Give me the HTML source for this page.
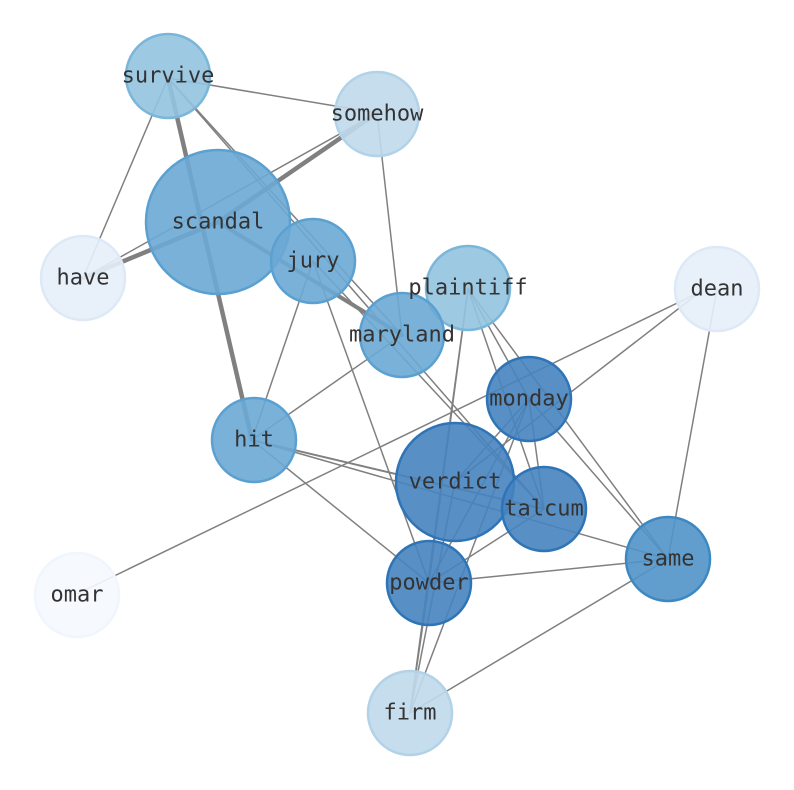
<!DOCTYPE html>
<html><head><meta charset="utf-8"><style>body{margin:0;background:#fff}svg{display:block}</style></head>
<body>
<svg width="794" height="790" xmlns="http://www.w3.org/2000/svg">
<g stroke="#808080" fill="none" stroke-linecap="round">
<line x1="168" y1="78" x2="377" y2="113" stroke-width="1.5"/>
<line x1="168" y1="78" x2="83" y2="278" stroke-width="1.5"/>
<line x1="168" y1="78" x2="252" y2="440" stroke-width="4.5"/>
<line x1="168" y1="78" x2="402" y2="335" stroke-width="1.5"/>
<line x1="168" y1="78" x2="544" y2="509" stroke-width="1.5"/>
<line x1="218" y1="222" x2="83" y2="278" stroke-width="4.5"/>
<line x1="218" y1="222" x2="377" y2="113" stroke-width="4.5"/>
<line x1="83" y1="278" x2="377" y2="113" stroke-width="1.5"/>
<line x1="218" y1="222" x2="402" y2="335" stroke-width="4"/>
<line x1="313" y1="261" x2="252" y2="440" stroke-width="1.5"/>
<line x1="313" y1="261" x2="429" y2="583" stroke-width="1.5"/>
<line x1="313" y1="261" x2="544" y2="509" stroke-width="1.5"/>
<line x1="377" y1="113" x2="402" y2="335" stroke-width="1.5"/>
<line x1="402" y1="335" x2="252" y2="440" stroke-width="1.5"/>
<line x1="468" y1="289" x2="410" y2="713" stroke-width="1.5"/>
<line x1="468" y1="289" x2="429" y2="583" stroke-width="1.5"/>
<line x1="468" y1="289" x2="544" y2="509" stroke-width="1.5"/>
<line x1="468" y1="289" x2="668" y2="559" stroke-width="1.5"/>
<line x1="468" y1="289" x2="529" y2="399" stroke-width="1.5"/>
<line x1="700" y1="292" x2="77" y2="594" stroke-width="1.5"/>
<line x1="700" y1="292" x2="455" y2="482" stroke-width="1.5"/>
<line x1="717" y1="289" x2="668" y2="559" stroke-width="1.5"/>
<line x1="529" y1="399" x2="455" y2="482" stroke-width="1.5"/>
<line x1="529" y1="399" x2="429" y2="583" stroke-width="1.5"/>
<line x1="529" y1="399" x2="544" y2="509" stroke-width="1.5"/>
<line x1="529" y1="399" x2="668" y2="559" stroke-width="1.5"/>
<line x1="529" y1="399" x2="410" y2="713" stroke-width="1.5"/>
<line x1="252" y1="440" x2="544" y2="509" stroke-width="2"/>
<line x1="252" y1="440" x2="668" y2="559" stroke-width="1.5"/>
<line x1="252" y1="440" x2="429" y2="583" stroke-width="1.5"/>
<line x1="455" y1="482" x2="410" y2="713" stroke-width="1.5"/>
<line x1="429" y1="583" x2="544" y2="509" stroke-width="1.5"/>
<line x1="429" y1="583" x2="668" y2="559" stroke-width="1.5"/>
<line x1="668" y1="559" x2="410" y2="713" stroke-width="1.5"/>
<line x1="429" y1="583" x2="410" y2="713" stroke-width="1.5"/>
</g>
<g stroke-width="2.5" fill-opacity="0.9">
<circle cx="168" cy="76" r="42" fill="#93c3df" stroke="#7ab6d9"/>
<circle cx="377" cy="114" r="42" fill="#c0d9ec" stroke="#b2d2e8"/>
<circle cx="218" cy="222" r="72" fill="#6ba8d4" stroke="#5aa0d0"/>
<circle cx="83" cy="278" r="42" fill="#e6eff9" stroke="#dde9f6"/>
<circle cx="313" cy="261" r="42" fill="#6ba8d4" stroke="#5aa0d0"/>
<circle cx="468" cy="288" r="42" fill="#93c3df" stroke="#7ab6d9"/>
<circle cx="717" cy="289" r="42" fill="#e6eff9" stroke="#dde9f6"/>
<circle cx="402" cy="335" r="42" fill="#6ba8d4" stroke="#5aa0d0"/>
<circle cx="529" cy="399" r="42" fill="#4683bf" stroke="#2e74b6"/>
<circle cx="254" cy="440" r="42" fill="#6ba8d4" stroke="#5aa0d0"/>
<circle cx="455" cy="482" r="59" fill="#4683bf" stroke="#2e74b6"/>
<circle cx="544" cy="509" r="42" fill="#4683bf" stroke="#2e74b6"/>
<circle cx="668" cy="559" r="42" fill="#5094c8" stroke="#3e88c2"/>
<circle cx="429" cy="583" r="42" fill="#4683bf" stroke="#2e74b6"/>
<circle cx="77" cy="595" r="42" fill="#f5f9fe" stroke="#f0f6fd"/>
<circle cx="410" cy="713" r="42" fill="#c0d9ec" stroke="#b2d2e8"/>
</g>
<g font-family="'DejaVu Sans Mono','Liberation Mono',monospace" font-size="22" fill="#333" text-anchor="middle" dominant-baseline="central">
<text x="168" y="76">survive</text>
<text x="377" y="114">somehow</text>
<text x="218" y="222">scandal</text>
<text x="83" y="278">have</text>
<text x="313" y="261">jury</text>
<text x="468" y="288">plaintiff</text>
<text x="717" y="289">dean</text>
<text x="402" y="335">maryland</text>
<text x="529" y="399">monday</text>
<text x="254" y="440">hit</text>
<text x="455" y="482">verdict</text>
<text x="544" y="509">talcum</text>
<text x="668" y="559">same</text>
<text x="429" y="583">powder</text>
<text x="77" y="595">omar</text>
<text x="410" y="713">firm</text>
</g>
</svg>
</body></html>
